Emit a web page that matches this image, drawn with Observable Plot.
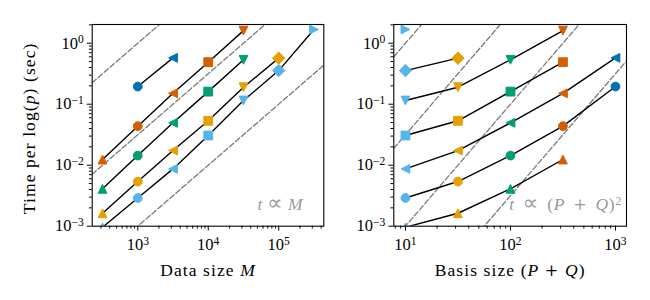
<!DOCTYPE html>
<html><head><meta charset="utf-8">
<script src="https://cdn.jsdelivr.net/npm/d3@7"></script>
<script src="https://cdn.jsdelivr.net/npm/@observablehq/plot@0.6"></script>
<style>
body{margin:0;background:#fff;}
#fig{position:relative;width:650px;height:300px;background:#fff;}
#fig svg{position:absolute;top:0;overflow:visible;}
</style></head><body><div id="fig"></div>
<script>
// ---- data ----
const dataSizes  = [316, 1000, 3162, 10000, 31623, 100000, 316228];      // M
const basisSizes = [10, 31.6, 100, 316, 1000];                           // P+Q
const basisColors = ["#56B4E9", "#E69F00", "#009E73", "#D55E00", "#0072B2"];
const markerByM = ["triangleUp", "circle", "triangleLeft", "square", "triangleDown", "diamond", "triangleRight"];
// time per log(p) in seconds, one array per basis size, indexed like dataSizes (null = not run)
const time10   = [0.00096, 0.0029, 0.0087, 0.0307, 0.115, 0.356, 1.68];
const time32   = [0.00163, 0.0054, 0.0174, 0.0535, 0.19, 0.569, null];
const time100  = [0.0041, 0.0144, 0.0495, 0.161, 0.535, null, null];
const time316  = [0.0124, 0.0437, 0.151, 0.489, 1.61, null, null];
const time1000 = [null, 0.195, 0.576, null, null, null, null];
const timesByBasis = [time10, time32, time100, time316, time1000];
// reference slopes: t = c*M (left) and t = c*(P+Q)^2 (right)
const guideLeft  = [1e-3, 10 ** -4.5, 1e-6];
const guideRight = [1e-2, 10 ** -3.5, 1e-5, 10 ** -6.5];
const yTicks = [1e-3, 1e-2, 1e-1, 1];
const leftXTicks = [1e3, 1e4, 1e5];
const rightXTicks = [10, 100, 1000];
const yDomain = [1e-3, 10 ** 0.307];
const leftXDomain = [10 ** 2.353, 10 ** 5.64];
const rightXDomain = [10 ** 0.889, 10 ** 3.105];
const yLabel = "Time per log(p) (sec)";
const leftXLabel = "Data size M";
const rightXLabel = "Basis size (P + Q)";
const leftNote = "t ∝ M";
const rightNote = "t ∝ (P + Q)^2";

// ---- table ----
const rows = [];
basisSizes.forEach((pq, i) => dataSizes.forEach((m, j) => {
  const t = timesByBasis[i][j];
  if (t != null) rows.push({M: m, PQ: pq, t, marker: markerByM[j]});
}));

// minor ticks (2..9 per decade) within a domain
function minor(domain) {
  const out = [];
  for (let e = Math.floor(Math.log10(domain[0])); e <= Math.ceil(Math.log10(domain[1])); e++)
    for (let k = 2; k <= 9; k++) { const v = k * 10 ** e; if (v >= domain[0] && v <= domain[1]) out.push(v); }
  return out;
}

// marker shapes (matplotlib-like)
const W = size => Math.sqrt(size / Math.PI) * 2;
const shapes = {
  circle: {draw(c, s) { const r = W(s) / 2; c.moveTo(r, 0); c.arc(0, 0, r, 0, 2 * Math.PI); }},
  square: {draw(c, s) { const h = W(s) / 2; c.rect(-h, -h, 2 * h, 2 * h); }},
  diamond: {draw(c, s) { const d = W(s) / 2 * Math.SQRT2; c.moveTo(0, -d); c.lineTo(d, 0); c.lineTo(0, d); c.lineTo(-d, 0); c.closePath(); }},
  triangleUp: {draw(c, s) { const h = W(s) / 2; c.moveTo(0, -h); c.lineTo(h, h); c.lineTo(-h, h); c.closePath(); }},
  triangleDown: {draw(c, s) { const h = W(s) / 2; c.moveTo(0, h); c.lineTo(h, -h); c.lineTo(-h, -h); c.closePath(); }},
  triangleLeft: {draw(c, s) { const h = W(s) / 2; c.moveTo(-h, 0); c.lineTo(h, -h); c.lineTo(h, h); c.closePath(); }},
  triangleRight: {draw(c, s) { const h = W(s) / 2; c.moveTo(h, 0); c.lineTo(-h, -h); c.lineTo(-h, h); c.closePath(); }}
};

const FONT = "'Liberation Serif', 'DejaVu Serif', serif";
const sup = d => `10^${Math.round(Math.log10(d))}`;

function panel({width, marginLeft, marginRight, xDomain, xTicks, xField, zField, guides, power, xLabel, note, noteDx}) {
  const guideRows = [];
  guides.forEach((c, k) => xDomain.forEach(x => guideRows.push({g: k, x, y: c * x ** power})));
  const sorted = rows.slice().sort((a, b) => a[xField] - b[xField]);
  return Plot.plot({
    width, height: 300,
    marginTop: 24, marginBottom: 74.3, marginLeft, marginRight,
    x: {type: "log", domain: xDomain, label: null},
    y: {type: "log", domain: yDomain, label: null},
    color: {type: "ordinal", domain: basisSizes, range: basisColors},
    style: {fontFamily: FONT, fontSize: "16.5px", background: "transparent", color: "black"},
    marks: [
      Plot.line(guideRows, {x: "x", y: "y", z: "g", stroke: "#7a7a7a", strokeWidth: 1.3, strokeDasharray: "5.5,2.4", clip: true}),
      Plot.line(sorted, {x: xField, y: "t", z: zField, stroke: "black", strokeWidth: 1.4, clip: true}),
      ...markerByM.map(name => Plot.dot(rows.filter(d => d.marker === name), {
        x: xField, y: "t", symbol: shapes[name], r: 4.4, fill: "PQ", stroke: "PQ", strokeWidth: 1, clip: true
      })),
      Plot.axisX(minor(xDomain), {tickSize: 2.8, tickFormat: () => "", label: null}),
      Plot.axisX(xTicks, {tickSize: 4.9, tickPadding: 7, tickFormat: sup, label: null, fontSize: 16.5}),
      Plot.axisY(minor(yDomain), {tickSize: 2.8, tickFormat: () => "", label: null}),
      Plot.axisY(yTicks, {tickSize: 4.9, tickPadding: 3.5, tickFormat: sup, label: null, fontSize: 16.5}),
      Plot.frame({stroke: "black", strokeWidth: 1.1}),
      Plot.text([xLabel], {frameAnchor: "bottom", textAnchor: "middle", lineAnchor: "top", dy: 37, fontSize: 17.5}),
      Plot.text([note], {frameAnchor: "bottom-right", textAnchor: "end", lineAnchor: "middle", dx: noteDx, dy: -21.7, fill: "#9a9a9a", fontSize: 17.5})
    ]
  });
}

const left = panel({width: 330, marginLeft: 91.7, marginRight: 6.7, xDomain: leftXDomain, xTicks: leftXTicks,
  xField: "M", zField: "PQ", guides: guideLeft, power: 1, xLabel: leftXLabel, note: leftNote, noteDx: -21});
const right = panel({width: 320, marginLeft: 63.3, marginRight: 24, xDomain: rightXDomain, xTicks: rightXTicks,
  xField: "PQ", zField: "M", guides: guideRight, power: 2, xLabel: rightXLabel, note: rightNote, noteDx: -4.3});

// y label on the left panel
const yl = Plot.plot({
  width: 330, height: 300, marginTop: 24, marginBottom: 74.3, marginLeft: 91.7, marginRight: 6.7,
  x: {axis: null}, y: {axis: null},
  style: {fontFamily: FONT, fontSize: "17.5px", background: "transparent"},
  marks: [Plot.text([yLabel], {frameAnchor: "left", textAnchor: "middle", rotate: -90, lineAnchor: "middle", dx: -63, dy: 3, fontSize: 17.5})]
});

const fig = document.getElementById("fig");
left.style.left = "0px"; right.style.left = "330px"; yl.style.left = "0px";
fig.append(left, right, yl);

// rich text: italics for math symbols, superscripts for exponents
const I = s => `<tspan font-style="italic">${s}</tspan>`;
const OP = s => `<tspan font-family="'DejaVu Serif', serif" font-size="0.92em">${s}</tspan>`;
const REL = s => `<tspan font-family="'DejaVu Sans', sans-serif" font-size="1.25em">${s}</tspan>`;
const SUP = s => `<tspan dy="-0.45em" font-size="0.7em">${s}</tspan>`;
const rich = new Map([
  [yLabel, `Time per log(${I("p")}) (sec)`],
  [leftXLabel, `Data size ${I("M")}`],
  [rightXLabel, `Basis size (${I("P")} ${OP("+")} ${I("Q")})`],
  [leftNote, `${I("t")} ${REL("∝")} ${I("M")}`],
  [rightNote, `${I("t")} ${REL("∝")} (${I("P")} ${OP("+")} ${I("Q")})${SUP("2")}`]
]);
const spacing = new Map([[yLabel, "1.1"], [leftXLabel, "1.1"], [rightXLabel, "1.1"], [leftNote, "0.3"], [rightNote, "0.7"]]);
fig.querySelectorAll("text").forEach(t => {
  const s = t.textContent;
  if (rich.has(s)) {
    t.setAttribute("letter-spacing", spacing.get(s));
    if (s === rightNote) t.setAttribute("word-spacing", "3");
    t.innerHTML = rich.get(s);
    return;
  }
  const m = /^10\^(-?\d+)$/.exec(s);
  if (m) t.innerHTML = `10${SUP(m[1].replace("-", "\u2212"))}`;
});
</script>
</body></html>
